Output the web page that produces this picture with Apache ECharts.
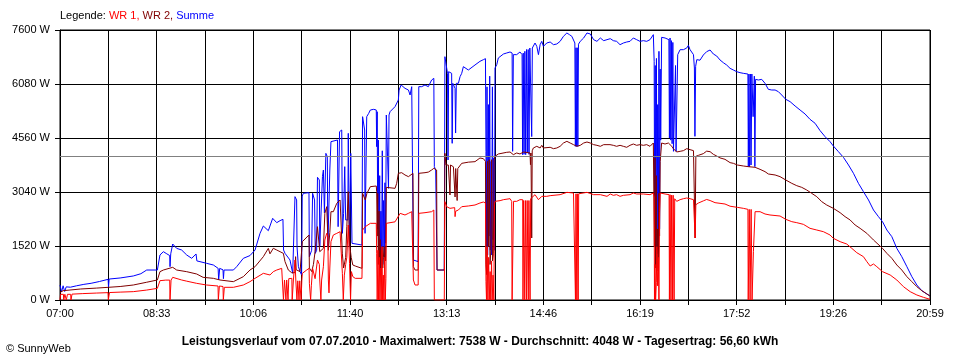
<!DOCTYPE html>
<html><head><meta charset="utf-8">
<script src="https://cdn.jsdelivr.net/npm/echarts@6/dist/echarts.min.js"></script>
<style>html,body{margin:0;padding:0;background:#fff}#c{width:960px;height:360px}</style>
</head><body><div id="c"></div>
<script>
// x values: minutes after 07:00, y values: watts
const tickLabels = ['07:00','08:33','10:06','11:40','13:13','14:46','16:19','17:52','19:26','20:59'];
const average = 4048;
const titleText = 'Leistungsverlauf vom 07.07.2010 - Maximalwert: 7538 W - Durchschnitt: 4048 W - Tagesertrag: 56,60 kWh';

const summe = [[0,420],[1.5,230],[3,400],[4.5,240],[6,370],[10,360],[16,400],[23,440],[30,470],[38,520],[46.4,582],[46.8,365],[47.4,590],[58,620],[70.7,676],[78,740],[83.6,844],[93.9,844],[96.4,1267],[99.7,1360],[103,1300],[105.8,1250],[106.1,938],[106.8,1300],[108.7,1576],[112.5,1454],[117.3,1407],[122.2,1267],[127,1173],[131.2,1295],[132,1100],[135,1079],[141.4,1032],[147.9,985],[152.5,891],[153,563],[154,890],[157.2,850],[157.6,600],[158.2,844],[167.2,844],[170.4,938],[176.8,1173],[183.2,1250],[188.1,1407],[192.9,1876],[196.1,2083],[200.9,1951],[205.1,2299],[209,2177],[212.2,2233],[215,2271],[215.6,1407],[217,1313],[221.8,1126],[224.4,751],[226,780],[226.6,2909],[228.2,2815],[228.6,1501],[229.9,938],[231.5,800],[233,704],[233.6,2927],[234.7,3003],[240.1,3021],[240.5,1220],[242.7,1400],[243.6,3003],[245.5,2815],[246.2,1313],[247.5,1400],[248.3,3453],[250.1,3378],[250.5,1501],[252.4,1550],[253.1,3472],[254,3659],[255,2450],[255.4,2400],[256.4,4128],[257.8,4035],[258.3,1501],[259.6,1501],[260.2,3659],[261.3,4457],[263,4504],[267.6,4504],[268.2,2064],[268.8,2064],[269.6,4738],[271.7,4785],[272.3,1876],[273.5,2439],[274.6,3753],[275.5,2252],[277.6,2252],[278,4691],[278.8,4691],[279.2,1501],[280.4,4128],[281,4128],[281.6,1595],[283.1,1548],[291.2,1548],[291.8,5160],[293.8,4785],[294.2,1876],[295.4,1900],[295.8,5160],[297.7,5254],[299.3,5348],[302.5,5367],[305,5348],[305.4,4316],[305.9,5300],[306.4,2000],[307,4500],[307.6,1100],[308.3,3500],[308.8,900],[309.5,2500],[310.1,1000],[310.8,4200],[311.4,1500],[312.1,2800],[312.7,1000],[313.4,3300],[314,1600],[314.7,5207],[316.4,5207],[316.8,3143],[317.3,5207],[318.3,5301],[319.9,5301],[323.1,5442],[326.3,5630],[327,5911],[329,6052],[332.7,5958],[336,5911],[337.6,5770],[339.2,6005],[340.4,6005],[340.8,1126],[345.4,1079],[346,6005],[348.8,6005],[352,6052],[355.2,6005],[358.4,6193],[360.5,6239],[361,3753],[362.3,3659],[363.2,3659],[363.6,844],[370.6,844],[371.2,6849],[372.9,6802],[373.7,6380],[374.2,3941],[374.8,6427],[377.7,6380],[378.2,4410],[378.8,6099],[381,5958],[381.5,4700],[382.2,6099],[384.2,6099],[385.8,6286],[387.4,6380],[389,6568],[393.8,6474],[400.2,6615],[405,6718],[408.3,6765],[410.3,6793],[410.8,4185],[411.2,1500],[411.8,6000],[412.4,1267],[413.1,5500],[413.7,1800],[414.4,6300],[415,1400],[415.7,3900],[416.3,1267],[417,6000],[417.6,1700],[418.3,4000],[419,1400],[419.5,6530],[421.2,6624],[422.7,6812],[424.4,6859],[427.6,6924],[430.8,6953],[434,6981],[436,6953],[436.5,4185],[437.2,6906],[440.4,6906],[443.6,6981],[445.6,6906],[446.1,4091],[446.7,6950],[447.5,4100],[448.3,7000],[449.1,4091],[449.9,7050],[450.7,4150],[451.5,7050],[452.3,4100],[453.1,7093],[454.6,7093],[454.9,4600],[455.5,7093],[458.1,7234],[459.8,7140],[461.4,6906],[463,7187],[464.6,7281],[466.2,7140],[469.4,7234],[472.7,7262],[475.9,7187],[479.1,7206],[482.3,7281],[485.5,7422],[488.8,7516],[491.3,7469],[493.6,7422],[496.5,7234],[497,4325],[497.6,7100],[498.2,4325],[498.8,7100],[499.4,4325],[500,7200],[501.7,7281],[505,7375],[508.2,7516],[511.4,7487],[514.6,7328],[517.8,7281],[521.1,7375],[524.3,7300],[527.5,7328],[530.7,7356],[533.6,7300],[536.8,7281],[540.1,7187],[543.3,7234],[546.5,7262],[549.7,7281],[552.9,7375],[556.1,7328],[559.3,7281],[562.6,7300],[565.8,7281],[569,7328],[570.6,7281],[572.2,7469],[573,6718],[573.5,1600],[574,6600],[574.6,1000],[575.2,6800],[575.8,1300],[576.4,5500],[577,1400],[577.6,7000],[578.2,2000],[578.8,6500],[579.3,4500],[580.2,7394],[583.5,7375],[587.2,7328],[587.7,4560],[588.3,7375],[589,4500],[589.6,7300],[590.3,4400],[591,7250],[591.6,4185],[593.1,4185],[593.6,6600],[594.1,4185],[595.7,6906],[598,7046],[601.2,7046],[604.4,7093],[606,7168],[607.6,7046],[610.9,6906],[611.8,6530],[612.3,4607],[613,6577],[614.1,6765],[617.2,6750],[620.4,6896],[623.6,6990],[626.9,7037],[630.1,6924],[633.3,6868],[636.5,6756],[639.7,6680],[642.9,6615],[646.2,6521],[649.4,6474],[652.6,6427],[655.8,6399],[659,6380],[663.4,6361],[663.8,3753],[664.4,6361],[665,3753],[665.8,6361],[666.4,3800],[667.2,6361],[668.4,5160],[669.6,6300],[670.1,3753],[670.8,6211],[673.5,6193],[676.7,6211],[679.9,6099],[683.1,5930],[686.4,5911],[689.6,5911],[692.8,5864],[696,5770],[699.9,5649],[704.1,5583],[708.9,5461],[713.7,5348],[718.5,5236],[723.3,5085],[728.2,4973],[733,4767],[737.8,4598],[742.6,4457],[745.8,4335],[750.7,4175],[755.5,4016],[760.4,3800],[765.2,3566],[770,3284],[774.8,3050],[779.7,2815],[784.5,2533],[789.3,2346],[793.2,2205],[797.4,1970],[802.2,1783],[807,1454],[811.8,1220],[816.7,938],[821.5,657],[826.3,422],[831.1,263],[836,169],[839,113]];

const wr2 = [[0,210],[3,263],[9.6,281],[20,310],[35,335],[46.6,357],[58,380],[70.7,422],[83.6,500],[93.9,563],[96.4,797],[99.7,844],[108.7,920],[112.5,844],[122.2,797],[131.8,732],[138,638],[147.9,610],[154.3,563],[167.2,516],[176.8,657],[183.2,844],[188.1,938],[196.1,1220],[200.9,1454],[202.5,1300],[205.7,1455],[209,1407],[212.2,1360],[215.4,1313],[217,1079],[220.2,844],[223.4,769],[226.6,769],[227.2,1220],[227.8,850],[231.5,800],[233.3,790],[233.7,1642],[234.7,1689],[240.1,1830],[240.5,900],[242.7,800],[244.4,1000],[246,1360],[248.3,2064],[250.1,2064],[250.5,1360],[254,1454],[255.4,2439],[257.2,2627],[258.5,2600],[258.8,1400],[260.2,1900],[261.3,2486],[263.6,2486],[266.9,2721],[270.1,2815],[271.7,2768],[272.3,1300],[273.5,900],[275.5,1200],[276.6,2064],[278,3050],[278.8,3050],[279.2,1595],[280.8,1200],[282.4,985],[284.7,957],[291.2,891],[291.8,3003],[294.4,2815],[296,3003],[299.3,3190],[305,3209],[305.4,3050],[305.9,1800],[306.4,3000],[307,1000],[307.6,2500],[308.3,800],[308.8,1700],[309.5,700],[310.1,1400],[310.8,900],[311.4,1500],[312.1,1200],[312.7,900],[313.4,1500],[314,1100],[314.7,3171],[316.6,3143],[323.1,3143],[324.7,3284],[326.3,3566],[329.5,3584],[332.7,3519],[336,3472],[337.6,3519],[340.4,3566],[340.8,938],[342.4,844],[345.4,844],[346,3566],[352,3584],[355.2,3600],[358.4,3659],[360.5,3706],[362.3,3659],[363.2,3659],[363.6,844],[370.6,844],[371.2,4129],[372.2,3800],[374.5,3800],[375.8,3750],[376.1,2956],[376.6,3800],[379.4,3750],[380.6,3750],[381,2900],[381.6,3700],[382.6,3700],[383,2800],[383.6,3700],[387.4,3847],[393.8,3880],[400.2,3894],[405,3997],[408.3,3978],[410.3,3903],[410.8,1000],[411.5,713],[412.3,3900],[413.1,1500],[413.9,3950],[414.7,1000],[415.5,1400],[416.3,3950],[417.1,1100],[417.9,1300],[418.7,3950],[419.5,4044],[422.7,4110],[424.4,4138],[430.8,4157],[434,4166],[437.2,4091],[440.4,4138],[443.6,4110],[446.9,4166],[453.3,4138],[453.7,3809],[454.2,4138],[454.6,4138],[454.9,1745],[455.4,4200],[456.5,4279],[459.8,4326],[463,4279],[464.6,4354],[466.2,4279],[472.7,4298],[475.9,4260],[479.1,4279],[482.3,4326],[485.5,4419],[488.8,4466],[492,4419],[495.2,4373],[498.5,4326],[501.7,4354],[505,4419],[508.2,4447],[511.4,4419],[514.6,4373],[517.8,4354],[521.1,4326],[524.3,4373],[527.5,4373],[530.4,4373],[533.6,4354],[536.8,4326],[540.1,4354],[543.3,4326],[546.5,4298],[549.7,4354],[552.9,4391],[556.1,4354],[559.3,4373],[562.6,4354],[565.8,4373],[569,4326],[572.2,4419],[573,4400],[573.2,1500],[573.8,4000],[574.4,900],[575.1,3500],[575.6,816],[576.3,2000],[577,900],[577.6,3000],[578.2,1800],[578.8,3900],[580.2,4419],[583.5,4391],[586.7,4419],[588.3,4373],[590,4326],[591.5,4260],[594.7,4166],[598,4185],[601.2,4204],[604.4,4260],[606,4279],[607.6,4232],[610.9,4204],[612.1,4200],[612.5,1745],[613.2,4044],[615.7,4072],[617.2,4030],[620.4,4120],[623.6,4190],[626.9,4175],[630.1,4100],[633.3,4053],[636.5,4000],[641.3,3960],[646.2,3866],[649.4,3847],[653.2,3800],[659,3772],[663.8,3753],[670.3,3735],[675.1,3678],[679.9,3613],[683.1,3547],[689.6,3519],[694.4,3472],[699.9,3378],[705.7,3284],[710.5,3218],[715.3,3171],[720.1,3096],[724.9,3003],[729.8,2909],[734.6,2768],[739.4,2674],[745.8,2580],[752.3,2458],[757.1,2346],[762,2252],[766.8,2111],[771.6,2017],[778.1,1876],[784.5,1689],[793.2,1454],[797.4,1313],[802.2,1173],[807,985],[811.8,844],[816.7,657],[821.5,516],[826.3,375],[831.1,263],[836,169],[839,113]];

const wr1 = [[0,0],[0.5,160],[3.3,160],[3.6,0],[4.4,0],[4.7,160],[5.8,160],[6.1,0],[6.9,0],[7.2,160],[10.3,160],[10.6,0],[11.3,0],[11.6,165],[22,180],[35,195],[46.3,207],[46.6,0],[47.4,0],[47.7,210],[58,222],[70.7,235],[83.6,280],[93.9,328],[96.4,544],[102,560],[105.8,560],[106.1,0],[106.8,0],[107.1,560],[108.7,638],[117.3,563],[122.2,530],[131.8,469],[141.4,422],[152.4,394],[152.7,0],[153.4,0],[153.7,394],[157.2,380],[157.5,0],[158.2,0],[158.5,357],[167.2,357],[176.8,422],[183.2,516],[188.1,610],[196.1,751],[202.5,704],[205.7,798],[209,844],[213.8,891],[215.2,850],[215.5,0],[216.2,0],[216.5,563],[217.6,563],[217.9,0],[218.6,563],[219.6,563],[219.9,0],[220.6,600],[223.6,610],[223.9,0],[224.8,0],[225.1,563],[226.3,563],[226.6,1126],[227.4,563],[228.2,563],[228.5,0],[229.3,540],[230.2,540],[230.5,0],[231.2,540],[232.2,540],[232.5,0],[233.2,540],[233.7,751],[237.9,844],[240.2,891],[240.5,469],[241.4,469],[241.7,0],[242.4,400],[243.6,891],[246,600],[248.3,1126],[250.1,1000],[250.5,563],[251.3,563],[251.6,0],[252.3,563],[254,938],[255.4,1689],[257.2,1876],[258.3,1800],[258.8,563],[259.4,200],[260.2,900],[261.3,1642],[263.6,1830],[266.9,1876],[270.1,1923],[271.7,1923],[272.3,751],[273.2,0],[274.2,700],[275.5,1000],[276.6,1200],[278,2111],[278.8,2111],[279.2,1032],[280.2,0],[281,800],[282.4,657],[284.7,610],[291.2,610],[291.8,1970],[294.4,2064],[299.3,2158],[305,2158],[305.4,1300],[305.9,0],[306.6,1400],[307.2,0],[307.9,1200],[308.5,0],[309.2,900],[309.8,0],[310.5,1500],[311.1,0],[311.8,700],[312.4,0],[313.1,1200],[313.7,0],[314.3,600],[314.7,2158],[316.6,2158],[323.1,2200],[324.7,2252],[328,2439],[332.7,2393],[336,2439],[339.2,2486],[340.4,2486],[340.8,563],[342.4,422],[345.4,422],[346,2439],[352,2458],[358.4,2486],[360.5,2533],[361,0],[370.6,0],[371.2,2768],[372.9,2627],[376.1,2580],[377.7,2627],[380.6,2600],[381,2346],[381.6,2500],[384.2,2533],[387.4,2627],[393.8,2646],[400.2,2674],[405,2730],[408.3,2758],[410.3,2730],[410.8,525],[411.3,0],[412,1500],[412.6,0],[413.4,1200],[414,0],[414.8,800],[415.4,0],[416.2,1100],[416.8,0],[417.6,700],[418.4,0],[419,2700],[419.5,2777],[424.4,2796],[427.6,2824],[434,2852],[435.6,2777],[436,0],[437,0],[437.4,2777],[440.4,2777],[443.6,2824],[446.2,2824],[446.5,0],[447.1,2800],[447.9,2800],[448.2,0],[448.8,2800],[449.6,2800],[449.9,0],[450.5,2800],[451.3,2800],[451.6,0],[452.2,2800],[453,2800],[453.3,0],[453.9,2852],[458.1,2965],[461.4,2824],[464.6,2918],[469.4,2918],[472.7,2937],[482.3,2965],[488.8,3030],[495.2,3012],[496.8,3000],[497.1,0],[497.6,2990],[498.1,2990],[498.4,0],[498.9,2990],[499.4,2990],[499.7,0],[500.2,2990],[501.7,2984],[508.2,3030],[514.6,2965],[521.1,2965],[527.5,2918],[530.7,2984],[533.6,2946],[536.8,2965],[540.1,2918],[543.3,2946],[549.7,2965],[552.9,3012],[556.1,2984],[562.6,2984],[569,2965],[572.2,3012],[573,2900],[573.3,0],[573.8,1000],[574.4,0],[575.1,500],[575.6,1500],[576.3,400],[577,1200],[577.6,0],[578.2,2500],[578.8,3012],[580.2,3012],[583.5,2984],[587.4,2965],[587.7,0],[588.3,2965],[588.9,2965],[589.2,0],[589.8,2950],[590.4,2950],[590.7,0],[591.3,2950],[591.9,2950],[592.2,0],[592.8,2850],[594.7,2777],[598,2824],[601.2,2852],[604.4,2871],[606,2890],[607.6,2852],[610.9,2824],[612.1,2820],[612.5,1745],[613.2,2683],[615.7,2730],[617.2,2730],[620.4,2790],[623.6,2830],[626.9,2800],[631.7,2740],[636.5,2721],[641.3,2702],[646.2,2640],[653.2,2608],[659,2580],[663.4,2552],[663.7,0],[664.4,0],[664.7,2550],[665.2,2550],[665.5,0],[666.2,0],[666.5,2550],[667.1,2550],[667.4,0],[668.2,0],[668.7,1360],[669.8,1360],[670.3,2486],[675.1,2486],[679.9,2421],[684.7,2393],[694.4,2364],[699.9,2271],[705.7,2205],[710.5,2177],[716.9,2130],[723.3,2017],[729.8,1970],[736.2,1923],[742.6,1830],[745.8,1736],[752.3,1642],[758.7,1576],[763.6,1454],[768.4,1332],[774.8,1220],[778.1,1079],[781.3,957],[784.5,1013],[787.7,938],[793.2,798],[800.6,704],[807,563],[813.4,375],[819.9,234],[826.3,141],[832.7,75],[839,19]];

const FONT = '"Liberation Sans", Arial, sans-serif';
const X_MAX = 839;
const X_STEP = X_MAX / 18;

const chart = echarts.init(document.getElementById('c'), null, {renderer: 'canvas'});
function lineSeries(name, data, color, z) {
  return {name, type: 'line', data, symbol: 'none', showSymbol: false, z,
    lineStyle: {color, width: 1}, itemStyle: {color}, emphasis: {disabled: true},
    animation: false, silent: true, clip: true};
}
chart.setOption({
  backgroundColor: '#ffffff',
  animation: false,
  title: {text: titleText, left: 'center', top: 331,
    textStyle: {fontFamily: FONT, fontSize: 12, fontWeight: 'bold', color: '#000'}},
  graphic: [
    {type: 'text', left: 60, top: 10, style: {
      text: '{k|Legende: }{a|WR 1, }{b|WR 2, }{c|Summe}',
      rich: {
        k: {fill: '#000', fontFamily: FONT, fontSize: 11},
        a: {fill: '#ff0000', fontFamily: FONT, fontSize: 11},
        b: {fill: '#800000', fontFamily: FONT, fontSize: 11},
        c: {fill: '#0000ff', fontFamily: FONT, fontSize: 11}
      }}},
    {type: 'text', left: 6, top: 343, style: {text: '© SunnyWeb', fill: '#000', fontFamily: FONT, fontSize: 11}}
  ],
  grid: {left: 60, right: 30, top: 30, bottom: 60, containLabel: false,
    show: true, borderColor: '#000', borderWidth: 1, backgroundColor: '#fff'},
  xAxis: {type: 'value', min: 0, max: X_MAX, interval: X_STEP,
    axisLine: {show: true, lineStyle: {color: '#000', width: 1}},
    axisTick: {show: true, length: 5, lineStyle: {color: '#000'}},
    splitLine: {show: true, lineStyle: {color: '#000', width: 1}},
    axisLabel: {color: '#000', fontFamily: FONT, fontSize: 11, margin: 8,
      showMinLabel: true, showMaxLabel: true,
      formatter: function (v) {
        const i = Math.round(v / X_STEP);
        return i % 2 === 0 ? (tickLabels[i / 2] || '') : '';
      }}},
  yAxis: {type: 'value', min: 0, max: 7600, interval: 1520,
    axisLine: {show: true, lineStyle: {color: '#000', width: 1}},
    axisTick: {show: true, length: 5, lineStyle: {color: '#000'}},
    splitLine: {show: true, lineStyle: {color: '#000', width: 1}},
    axisLabel: {color: '#000', fontFamily: FONT, fontSize: 11, margin: 10,
      formatter: function (v) { return v + ' W'; }}},
  series: [
    {name: 'avg', type: 'line', data: [], z: 1, silent: true, animation: false,
      markLine: {silent: true, symbol: 'none', label: {show: false}, animation: false,
        lineStyle: {color: '#808080', width: 1, type: 'solid'},
        data: [{yAxis: average}]}},
    lineSeries('Summe', summe, '#0000ff', 2),
    lineSeries('WR 2', wr2, '#800000', 3),
    lineSeries('WR 1', wr1, '#ff0000', 4)
  ]
});
</script>
</body></html>
